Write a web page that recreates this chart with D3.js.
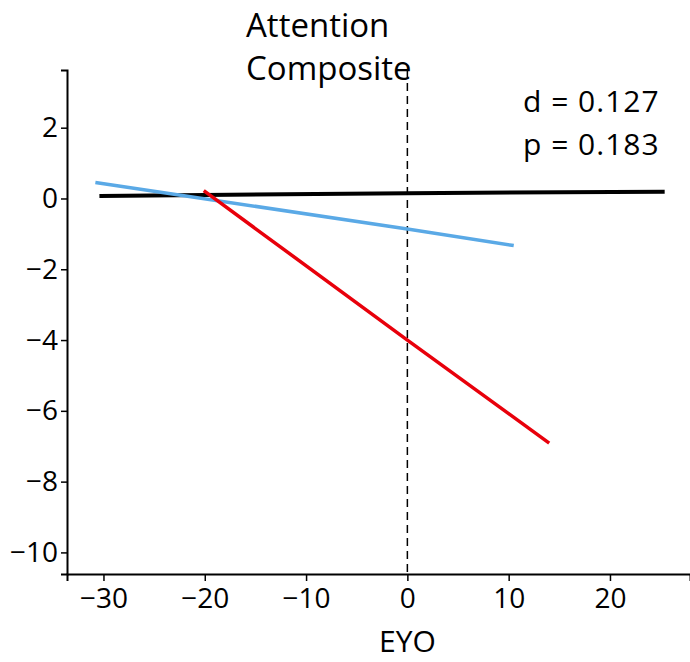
<!DOCTYPE html>
<html>
<head>
<meta charset="utf-8">
<script src="https://cdn.jsdelivr.net/npm/d3@7"></script>
<style>
  html, body { margin: 0; padding: 0; background: #fff; }
  svg text { font-family: "Open Sans", sans-serif; fill: #000; }
</style>
</head>
<body>
<script>
// values
const xTicks = [-30, -20, -10, 0, 10, 20];
const yTicks = [2, 0, -2, -4, -6, -8, -10];

const blackX = [-30.4, 0, 25.4];
const blackY = [0.07, 0.15, 0.19];
const blueX = [-30.8, 0, 10.5];
const blueY = [0.45, -0.86, -1.33];
const redX = [-20.1, 0, 14.0];
const redY = [0.22, -4.0, -6.91];

const titleLines = ["Attention", "Composite"];
const statLines = ["d = 0.127", "p = 0.183"];
const xLabel = "EYO";

const width = 690, height = 662;

const x = d3.scaleLinear().domain([-33.6, 27.9]).range([67, 690]);
const y = d3.scaleLinear().domain([-10.61, 3.63]).range([574, 70]);

const svg = d3.select("body").append("svg")
    .attr("width", width)
    .attr("height", height);

const fmt = d => d3.format("d")(d).replace("-", "\u2212");

// axes
const xAxis = svg.append("g")
    .attr("transform", `translate(0,${y.range()[0]})`)
    .call(d3.axisBottom(x).tickValues(xTicks).tickSize(7).tickPadding(3).tickFormat(fmt));
const yAxis = svg.append("g")
    .attr("transform", `translate(${x.range()[0]},0)`)
    .call(d3.axisLeft(y).tickValues(yTicks).tickSize(6).tickPadding(3).tickFormat(fmt));

[xAxis, yAxis].forEach(g => {
    g.select(".domain").attr("stroke", "#000").attr("stroke-width", 2);
    g.selectAll(".tick line").attr("stroke", "#000").attr("stroke-width", 1.5);
    g.selectAll(".tick text").attr("font-size", 28).attr("fill", "#000");
});
xAxis.selectAll(".tick text").attr("dy", "0.85em");

// dashed reference at EYO = 0
svg.append("line")
    .attr("x1", x(0)).attr("x2", x(0))
    .attr("y1", y.range()[1]).attr("y2", y.range()[0])
    .attr("stroke", "#000")
    .attr("stroke-width", 1.5)
    .attr("stroke-dasharray", "8,5");

const line = d3.line().x(d => x(d[0])).y(d => y(d[1]));
const series = [
    { xs: blackX, ys: blackY, color: "#000000", w: 4 },
    { xs: blueX, ys: blueY, color: "#5aa9e6", w: 3.5 },
    { xs: redX, ys: redY, color: "#e8000b", w: 3.5 }
];
series.forEach(s => {
    svg.append("path")
        .datum(s.xs.map((v, i) => [v, s.ys[i]]))
        .attr("d", line)
        .attr("fill", "none")
        .attr("stroke", s.color)
        .attr("stroke-width", s.w);
});

// title
svg.append("g").selectAll("text")
    .data(titleLines)
    .join("text")
    .attr("x", 246)
    .attr("y", (d, i) => 37 + i * 43)
    .attr("font-size", 33)
    .text(d => d);

// stats
svg.append("g").selectAll("text")
    .data(statLines)
    .join("text")
    .attr("x", 523)
    .attr("y", (d, i) => 112 + i * 43)
    .attr("font-size", 30)
    .attr("letter-spacing", 1)
    .text(d => d);

// x label
svg.append("text")
    .attr("x", x(0))
    .attr("y", 652)
    .attr("text-anchor", "middle")
    .attr("font-size", 30)
    .text(xLabel);
</script>
</body>
</html>
